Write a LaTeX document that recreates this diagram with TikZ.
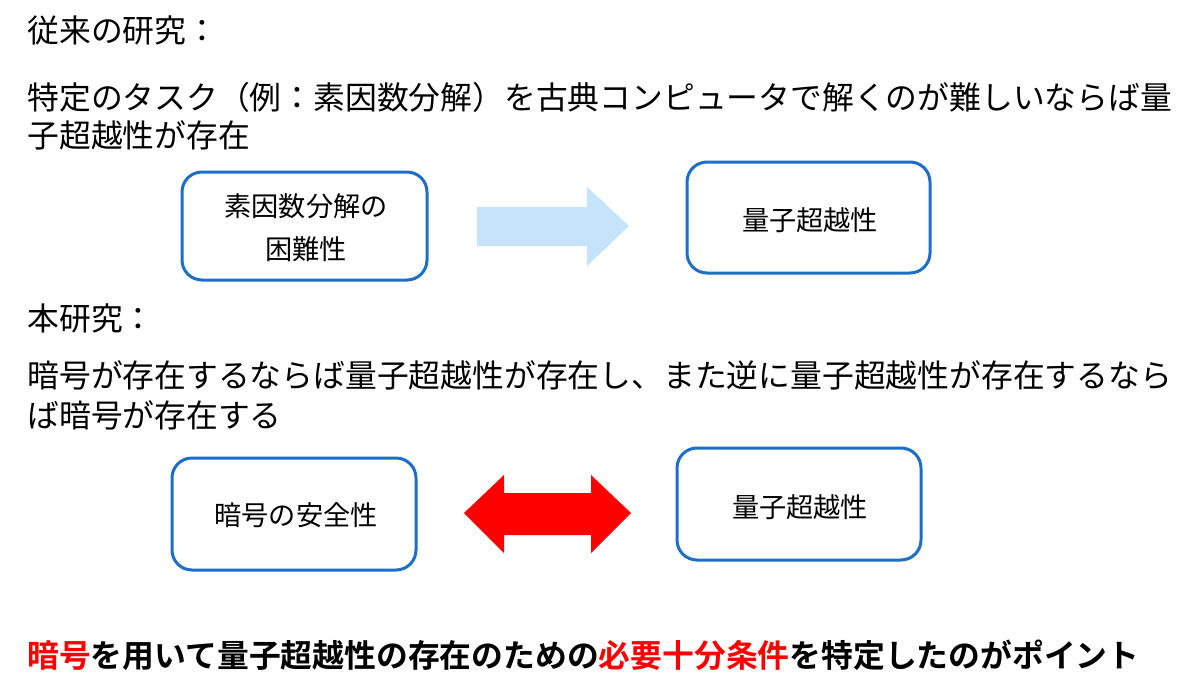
\documentclass[tikz,border=0pt]{standalone}
\usepackage{fontspec}
\newfontfamily\jp{Noto Sans CJK JP}
\newfontfamily\jpb{Noto Sans CJK JP Bold}
\definecolor{boxblue}{RGB}{28,110,200}
\definecolor{lightarrow}{RGB}{197,228,250}
\definecolor{redarrow}{RGB}{255,0,0}
\begin{document}
\begin{tikzpicture}[x=0.5pt,y=-0.5pt,
  maintext/.style={anchor=west,inner sep=0pt,font=\jp\fontsize{15.9pt}{19pt}\selectfont},
  boxtext/.style={inner sep=0pt,align=center,font=\jp\fontsize{13.6pt}{21.5pt}\selectfont},
  roundbox/.style={draw=boxblue,line width=1.5pt,rounded corners=10pt,fill=white}]
\useasboundingbox[fill=white] (0,0) rectangle (1200,686);
% headings and text
\node[maintext] (h1) at (27,30) {従来の研究：};
\node[maintext] (l1) at (27,97) {特定のタスク（例：素因数分解）を古典コンピュータで解くのが難しいならば量};
\node[maintext] (l2) at (27,135) {子超越性が存在};
\node[maintext] (h2) at (27,318) {本研究：};
\node[maintext] (l3) at (27,375) {暗号が存在するならば量子超越性が存在し、また逆に量子超越性が存在するなら};
\node[maintext] (l4) at (27,415) {ば暗号が存在する};
% boxes
\draw[roundbox] (182,172) rectangle (427,280);
\node[boxtext] (b1) at (306,228) {素因数分解の\\困難性};
\draw[roundbox] (687,162) rectangle (930,273);
\node[boxtext] (b2) at (810,220) {量子超越性};
\draw[roundbox] (172,458) rectangle (416,570);
\node[boxtext] (b3) at (296,515) {暗号の安全性};
\draw[roundbox] (677,448) rectangle (921,560);
\node[boxtext] (b4) at (800,507) {量子超越性};
% arrows
\fill[lightarrow] (477,207) -- (587,207) -- (587,187) -- (629,226) -- (587,266) -- (587,246) -- (477,246) -- cycle;
\fill[redarrow] (464,513) -- (504,475) -- (504,493) -- (591,493) -- (591,475) -- (631,513) -- (591,553) -- (591,535) -- (504,535) -- (504,553) -- cycle;
% conclusion
\node[anchor=west,inner sep=0pt,font=\jpb\fontsize{15.9pt}{19pt}\selectfont] (c) at (27,655) {\textcolor{redarrow}{暗号}を用いて量子超越性の存在のための\textcolor{redarrow}{必要十分条件}を特定したのがポイント};
\end{tikzpicture}
\end{document}
